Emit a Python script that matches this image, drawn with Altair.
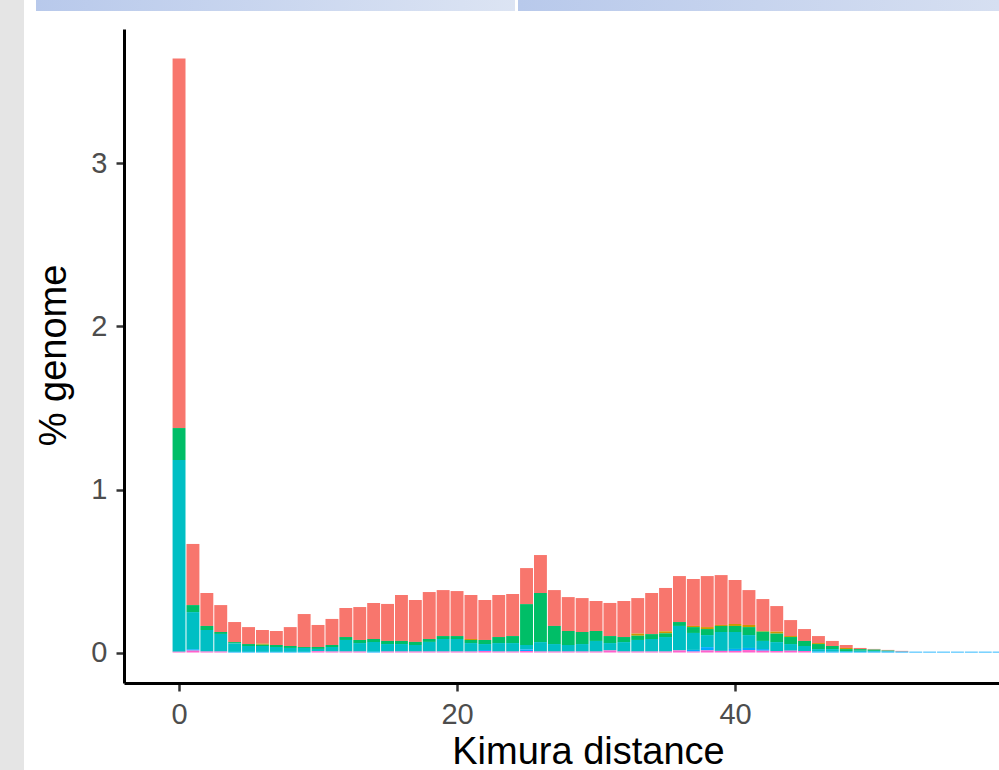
import altair as alt
import pandas as pd

# Kimura distance bins (1% wide), as visible in the crop
kimura = list(range(60))

# repeat classes, listed from the top of each stack to the bottom
classes = ["DNA", "LINE", "LTR", "SINE", "Simple_repeat", "Unknown"]
class_colors = ["#F8766D", "#CD9600", "#00BE67", "#00BFC4", "#00A9FF", "#FF61CC"]

# % genome per class and bin (segment heights)
dna = [2.267, .375, .202, .165, .123, .104, .084, .086, .116, .202,
       .135, .160, .178, .202, .221, .227, .282, .257, .288, .282,
       .276, .270, .245, .258, .258, .221, .233, .220, .208, .208,
       .184, .203, .221, .218, .252, .266, .282, .288, .313, .306,
       .270, .214, .196, .157, .098, .073, .043, .031, .018, .007,
       .004, .004, .004, 0, 0, 0, 0, 0, 0, 0]
line = [0, 0, 0, 0, 0, 0, .006, 0, 0, 0,
        0, 0, 0, 0, 0, 0, 0, 0, 0, 0,
        0, .006, 0, 0, 0, 0, 0, 0, 0, 0,
        0, 0, 0, .013, 0, .012, 0, .007, .012, .006,
        .012, .013, .004, .012, .006, 0, .006, 0, .007, 0,
        0, 0, 0, 0, 0, 0, 0, 0, 0, 0]
ltr = [.196, .043, .025, .012, .008, .012, .008, .012, .012, .006,
       .012, .012, .018, .019, .018, .019, .019, .019, .018, .018,
       .018, .019, .025, .037, .043, .251, .301, .111, .086, .074,
       .061, .043, .031, .026, .030, .023, .024, .036, .037, .037,
       .037, .049, .057, .052, .043, .031, .031, .019, .012, .010,
       .008, .004, 0, 0, 0, 0, 0, 0, 0, 0]
sine = [1.176, .228, .132, .108, .052, .036, .036, .030, .024, .024,
        .014, .028, .071, .052, .061, .046, .046, .040, .059, .077,
        .077, .052, .037, .052, .052, .027, .058, .046, .040, .046,
        .065, .045, .058, .071, .077, .089, .150, .104, .074, .116,
        .104, .079, .050, .055, .041, .031, .015, .016, .005, .007,
        .005, .003, .001, 0, 0, 0, 0, 0, 0, 0]
simple = [0, .008, 0, 0, .004, .004, .004, .004, .004, .004,
          0, 0, 0, 0, .004, 0, 0, 0, 0, 0,
          0, 0, .006, 0, 0, .010, 0, 0, 0, 0,
          0, 0, 0, 0, 0, 0, 0, .010, .020, 0,
          .012, .013, .010, 0, 0, 0, .006, .005, .004, .004,
          .005, .005, .005, .005, .005, .005, .005, .005, .005, .005]
unknown = [.005, .012, .006, .006, 0, 0, 0, 0, 0, 0,
           .008, .006, .006, .006, 0, .006, .006, .006, .006, .006,
           .006, .006, .009, .006, .006, .009, .006, .006, .006, .006,
           .006, .013, .006, .006, .006, .006, .013, .006, .013, .010,
           .010, .015, .011, .009, .011, .009, 0, 0, 0, 0,
           0, 0, 0, 0, 0, 0, 0, 0, 0, 0]

series = [dna, line, ltr, sine, simple, unknown]
rows = []
for ci, (name, vals) in enumerate(zip(classes, series)):
    for k, v in zip(kimura, vals):
        rows.append({"kimura": k, "cls": name, "pct": v,
                     "stack_rank": len(classes) - 1 - ci})
df = pd.DataFrame(rows)

FONT = "Liberation Sans"

bars = alt.Chart(df).transform_stack(
    stack="pct", groupby=["kimura"], as_=["y0", "y1"],
    sort=[alt.SortField("stack_rank", order="ascending")],
).transform_calculate(
    x0="datum.kimura - 0.465", x1="datum.kimura + 0.465"
).mark_rect(clip=True, strokeWidth=0).encode(
    x=alt.X("x0:Q",
            scale=alt.Scale(domain=[-3.96, 58.99], nice=False, zero=False),
            axis=alt.Axis(values=[0, 20, 40], grid=False, format="d",
                          title="Kimura distance",
                          domainColor="black", domainWidth=3,
                          tickColor="#333333", tickWidth=2.5, tickSize=8,
                          labelFont=FONT, labelFontSize=29, labelColor="#4D4D4D",
                          labelPadding=9,
                          titleFont=FONT, titleFontSize=38, titleColor="black",
                          titleFontWeight="normal", titleX=464, titleY=80,
                          titleAlign="center", titleBaseline="alphabetic")),
    x2="x1:Q",
    y=alt.Y("y0:Q",
            scale=alt.Scale(domain=[-0.187, 3.825], nice=False, zero=False),
            axis=alt.Axis(values=[0, 1, 2, 3], grid=False, format="d",
                          title="% genome",
                          domainColor="black", domainWidth=3,
                          tickColor="#333333", tickWidth=2.5, tickSize=8,
                          labelFont=FONT, labelFontSize=29, labelColor="#4D4D4D",
                          labelPadding=9,
                          titleFont=FONT, titleFontSize=38, titleColor="black",
                          titleFontWeight="normal", titleX=-59, titleY=326,
                          titleAngle=-90, titleAlign="center",
                          titleBaseline="alphabetic")),
    y2="y1:Q",
    color=alt.Color("cls:N", scale=alt.Scale(domain=classes, range=class_colors),
                    legend=None),
)

one = alt.Data(values=[{}])
side_band = alt.Chart(one).mark_rect(color="#E5E5E5").encode(
    x=alt.value(-124), x2=alt.value(-100), y=alt.value(-29), y2=alt.value(741))
grad1 = alt.LinearGradient(gradient="linear", x1=0, x2=1, y1=0, y2=0,
                           stops=[alt.GradientStop(color="#B8C9EB", offset=0),
                                  alt.GradientStop(color="#DCE4F3", offset=1)])
grad2 = alt.LinearGradient(gradient="linear", x1=0, x2=1, y1=0, y2=0,
                           stops=[alt.GradientStop(color="#B8C9EB", offset=0),
                                  alt.GradientStop(color="#D6DFF1", offset=1)])
strip1 = alt.Chart(one).mark_rect(color=grad1).encode(
    x=alt.value(-88), x2=alt.value(391), y=alt.value(-29), y2=alt.value(-18))
strip2 = alt.Chart(one).mark_rect(color=grad2).encode(
    x=alt.value(394), x2=alt.value(875), y=alt.value(-29), y2=alt.value(-18))

chart = alt.layer(side_band, strip1, strip2, bars).properties(
    width=875, height=654,
    padding={"left": 124, "top": 29, "right": 0, "bottom": 87},
    autosize=alt.AutoSizeParams(type="none"),
    background="white",
).configure_view(stroke=None)

chart.save("out.html", embed_options={"renderer": "svg", "actions": False})
